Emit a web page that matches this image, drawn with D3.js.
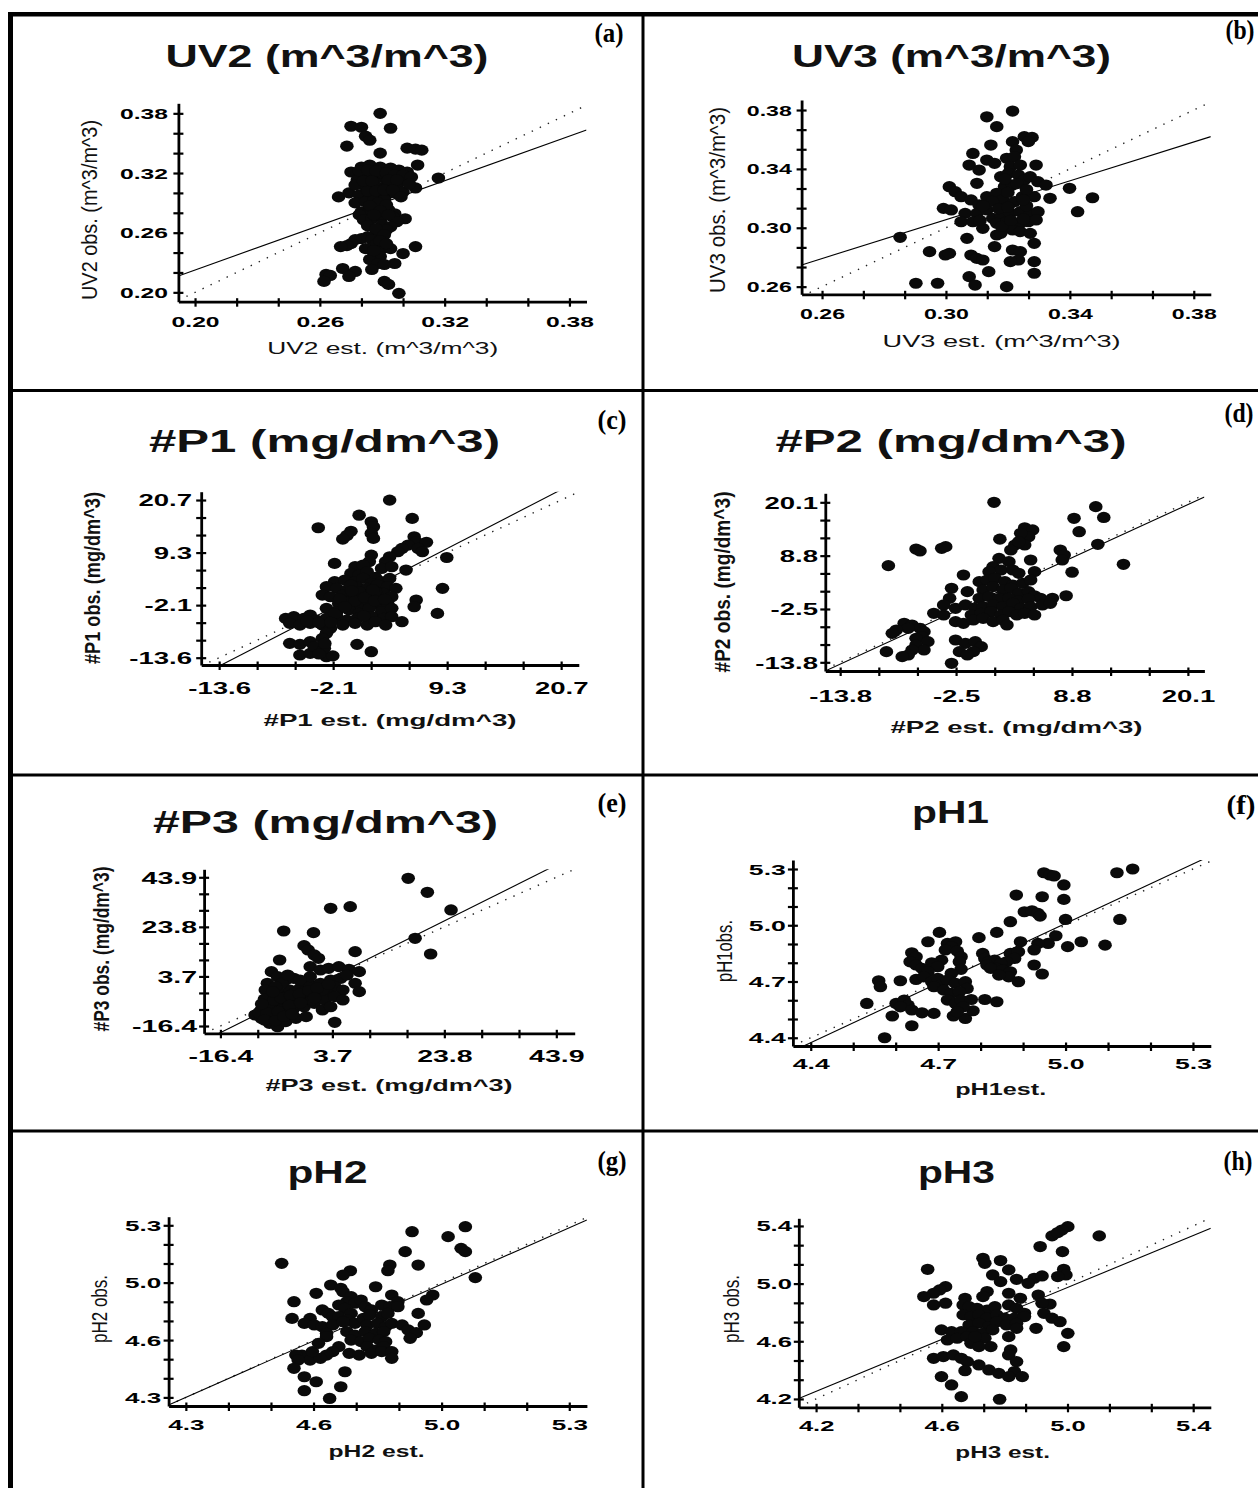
<!DOCTYPE html>
<html><head><meta charset="utf-8">
<script src="https://cdn.jsdelivr.net/npm/d3@7"></script>
<style>
html,body{margin:0;padding:0;background:#fff;}
svg{display:block;}
</style></head>
<body>
<svg id="c" width="1258" height="1488"></svg>
<script>
// ================= DATA =================
const titles = ["UV2 (m^3/m^3)","UV3 (m^3/m^3)","#P1 (mg/dm^3)","#P2 (mg/dm^3)","#P3 (mg/dm^3)","pH1","pH2","pH3"];
const letters = ["(a)","(b)","(c)","(d)","(e)","(f)","(g)","(h)"];
const xTitles = ["UV2 est. (m^3/m^3)","UV3 est. (m^3/m^3)","#P1 est. (mg/dm^3)","#P2 est. (mg/dm^3)","#P3 est. (mg/dm^3)","pH1est.","pH2 est.","pH3 est."];
const yTitles = ["UV2 obs. (m^3/m^3)","UV3 obs. (m^3/m^3)","#P1 obs. (mg/dm^3)","#P2 obs. (mg/dm^3)","#P3 obs. (mg/dm^3)","pH1obs.","pH2 obs.","pH3 obs."];

const tickValues = [
  [0.20,0.26,0.32,0.38],
  [0.26,0.30,0.34,0.38],
  [-13.6,-2.167,9.267,20.7],
  [-13.8,-2.5,8.8,20.1],
  [-16.4,3.7,23.8,43.9],
  [4.4,4.7,5.0,5.3],
  [4.3,4.633,4.967,5.3],
  [4.2,4.6,5.0,5.4]
];
const tickLabels = [
  ["0.20","0.26","0.32","0.38"],
  ["0.26","0.30","0.34","0.38"],
  ["-13.6","-2.1","9.3","20.7"],
  ["-13.8","-2.5","8.8","20.1"],
  ["-16.4","3.7","23.8","43.9"],
  ["4.4","4.7","5.0","5.3"],
  ["4.3","4.6","5.0","5.3"],
  ["4.2","4.6","5.0","5.4"]
];
// axis extents [min,max]
const axisX = [[0.1920,0.3882],[0.2534,0.3855],[-15.40,22.47],[-15.25,21.71],[-19.33,47.20],[4.358,5.342],[4.255,5.346],[4.145,5.456]];
const axisY = [[0.1906,0.3901],[0.2548,0.3868],[-15.19,22.51],[-15.64,22.01],[-19.36,47.14],[4.356,5.348],[4.250,5.350],[4.142,5.453]];
// regression line [intercept, slope]
const fitLines = [[0.0729,0.748],[0.1075,0.660],[-0.21,1.119],[-0.42,0.997],[-0.6,1.128],[-0.286,1.059],[0.060,0.986],[0.473,0.900]];

const ptsUV2 = [[0.289,0.380],[0.275,0.367],[0.280,0.366],[0.294,0.365],[0.282,0.357],[0.284,0.353],[0.273,0.347],[0.302,0.345],[0.306,0.344],[0.309,0.343],[0.289,0.340],
[0.307,0.328],[0.275,0.321],[0.280,0.326],[0.284,0.328],[0.289,0.326],[0.294,0.325],[0.298,0.323],[0.302,0.321],
[0.278,0.313],[0.283,0.316],[0.287,0.318],[0.291,0.315],[0.295,0.311],[0.300,0.313],
[0.281,0.308],[0.285,0.306],[0.289,0.305],[0.293,0.308],[0.297,0.306],[0.317,0.315],[0.306,0.305],
[0.269,0.296],[0.274,0.300],[0.279,0.298],[0.284,0.296],[0.288,0.300],[0.292,0.298],[0.296,0.300],[0.300,0.301],
[0.277,0.290],[0.282,0.291],[0.286,0.293],[0.291,0.293],
[0.280,0.281],[0.284,0.281],[0.288,0.285],[0.293,0.283],[0.296,0.279],
[0.279,0.278],[0.281,0.273],[0.285,0.274],[0.290,0.276],[0.295,0.276],[0.301,0.274],[0.297,0.271],
[0.290,0.268],[0.294,0.266],[0.292,0.263],[0.287,0.259],[0.283,0.256],[0.280,0.254],[0.285,0.253],
[0.277,0.253],[0.275,0.249],[0.273,0.247],[0.270,0.246],[0.287,0.248],[0.290,0.244],[0.294,0.244],[0.306,0.246],
[0.286,0.239],[0.289,0.236],[0.300,0.239],[0.284,0.233],[0.288,0.229],[0.296,0.229],[0.291,0.228],
[0.271,0.224],[0.277,0.221],[0.285,0.223],[0.263,0.218],[0.265,0.217],[0.274,0.216],
[0.262,0.211],[0.291,0.211],[0.293,0.208],[0.298,0.199],
[0.286,0.311],[0.290,0.320],[0.283,0.302],[0.288,0.290],
[0.279,0.322],[0.283,0.323],[0.287,0.322],[0.292,0.320],[0.296,0.318],[0.300,0.318],[0.304,0.316],[0.277,0.308],[0.281,0.312],[0.285,0.312],[0.293,0.313],[0.297,0.313],[0.303,0.309],[0.287,0.302],[0.291,0.303],[0.295,0.303],[0.299,0.296],[0.284,0.287],[0.292,0.288],[0.289,0.282],[0.293,0.278],[0.286,0.278],[0.283,0.267],[0.287,0.264],[0.291,0.258],[0.289,0.252],[0.292,0.249],[0.282,0.244],[0.286,0.242]];

const ptsUV3 = [[0.3215,0.3793],[0.3132,0.3754],[0.3164,0.3687],[0.3145,0.3562],[0.3215,0.3585],[0.3253,0.3619],[0.3278,0.3614],[0.3266,0.3585],[0.3227,0.3528],[0.3087,0.3505],[0.3132,0.346],[0.3157,0.3438],[0.3196,0.3472],[0.3221,0.3483],[0.3075,0.3426],[0.3107,0.3392],[0.3208,0.3415],[0.3240,0.3426],[0.3291,0.3426],[0.3100,0.3302],[0.3177,0.3347],[0.3202,0.3370],[0.3234,0.3358],[0.3253,0.3324],[0.3272,0.3347],[0.3189,0.3279],[0.3215,0.329],[0.3297,0.3313],[0.3323,0.329],[0.3011,0.3279],[0.3030,0.3245],[0.3049,0.3211],[0.3081,0.3189],[0.3107,0.3155],[0.2992,0.3132],[0.3017,0.3121],[0.3132,0.3211],[0.3164,0.3234],[0.3183,0.3189],[0.3221,0.3177],[0.3247,0.3211],[0.3285,0.3211],[0.3336,0.32],[0.3399,0.3268],[0.3473,0.3204],[0.3425,0.3109],[0.3062,0.3098],[0.3100,0.3098],[0.3132,0.3121],
[0.3151,0.3064],[0.3177,0.3075],[0.3208,0.3098],[0.3240,0.3109],[0.3272,0.3098],[0.3297,0.3109],[0.3049,0.3041],[0.3087,0.3041],
[0.3164,0.3030],[0.3196,0.3041],[0.3240,0.3030],[0.3266,0.3041],[0.3291,0.3053],[0.3119,0.2996],[0.3215,0.2985],[0.3240,0.2974],
[0.3068,0.2928],[0.3164,0.2951],[0.3177,0.2962],[0.3272,0.2962],[0.3285,0.2894],[0.2852,0.2935],[0.2947,0.2838],[0.2998,0.2815],[0.3011,0.2826],
[0.3081,0.2815],[0.3100,0.2792],[0.3119,0.2781],[0.3157,0.2872],[0.3215,0.2849],[0.3240,0.2838],[0.3234,0.2781],[0.3208,0.2770],
[0.3285,0.2770],[0.3285,0.2691],[0.3138,0.2702],[0.3075,0.2668],[0.3094,0.2611],[0.2903,0.2623],[0.2973,0.2623],[0.3196,0.2600],
[0.3190,0.3330],[0.3230,0.3300],[0.3260,0.3260],[0.3200,0.3240],[0.3150,0.3180],[0.3120,0.3150],[0.3170,0.3130],[0.3200,0.3140],[0.3260,0.3150],[0.3250,0.3190],[0.3180,0.3010],[0.3210,0.3050],[0.3250,0.3060],[0.3110,0.3050]];

const ptsP1 = [[3.50,20.68],[0.44,17.4],[1.66,15.97],[1.87,14.9],[5.76,16.70],[-3.66,14.67],[-0.38,13.9],[-0.79,13.0],[-1.2,12.2],[1.66,13.44],[1.87,12.35],[5.96,12.71],[6.16,11.62],[7.19,11.5],[5.35,10.9],[4.73,10.17],[4.32,9.45],[6.37,10.17],[6.78,9.45],[3.50,8.36],[3.10,7.3],[9.23,8.2],[1.66,8.72],[1.46,7.3],[-2.02,6.91],[0.03,6.19],[0.84,6.55],[2.69,5.82],[3.71,6.19],[5.14,5.46],[-0.38,4.74],[0.44,4.38],[1.25,5.10],[2.07,3.9],
[-2.02,2.93],[-1.0,3.29],[0.03,2.93],[0.84,3.65],[1.66,2.56],[2.69,2.93],[3.50,3.65],
[-2.84,1.84],[-1.81,1.48],[-0.79,1.11],[0.23,1.84],[1.25,1.48],[2.28,2.20],[3.30,1.84],[4.12,1.48],[8.8,1.48],
[-3.25,0.03],[-2.43,-0.34],[-1.20,0.03],[-0.18,-0.70],[0.84,0.03],[1.87,-0.70],[2.89,0.39],[3.71,-0.34],[6.16,-1.06],[5.96,-2.51],
[-1.61,-1.79],[-0.59,-1.42],[0.44,-2.15],[1.46,-1.42],[2.48,-2.15],[3.30,-1.79],
[-2.84,-2.87],[-1.81,-3.60],[-0.59,-3.2],[0.44,-3.96],[1.46,-2.87],[2.69,-3.60],[3.71,-2.87],[8.29,-3.96],
[-6.93,-5.05],[-6.11,-4.68],[-5.09,-5.05],[-4.47,-4.32],[-3.86,-5.41],[-2.84,-5.05],[-1.81,-4.68],[-0.79,-5.41],[0.23,-5.05],
[1.66,-4.68],[2.89,-5.05],[3.71,-4.68],[4.73,-5.77],[-6.52,-6.13],[-5.50,-6.50],[-4.47,-6.13],
[-3.25,-6.50],[-2.43,-7.22],[-1.20,-6.50],[0.03,-6.13],[1.25,-6.50],[2.07,-5.77],[3.10,-6.50],
[-2.84,-8.3],[-3.25,-9.40],[-6.52,-10.48],[-5.50,-10.7],[-4.47,-10.12],[-3.86,-11.57],[-3.25,-12.3],
[-5.5,-13.02],[-4.47,-12.66],[-2.84,-13.38],[-2.2,-13.2],[-4.06,-11.2],[0.23,-10.7],[1.66,-12.30],[-3.05,-11.57],
[0.44,0.75],[2.07,0.75],[-0.38,2.2],
[-1.5,-0.8],[0.0,-1.3],[1.0,-0.5],[2.0,-1.2],[-0.3,0.9],[1.8,1.2],[3.0,-0.9],[-2.0,-4.0],[-1.0,-2.5],[0.9,-4.5],[-4.8,-5.6],[-3.6,-6.0],[-2.4,-5.9],[-3.0,-10.5],[-3.6,-12.8]];

const ptsP2 = [[1.2,20.10],[11.12,19.18],[11.9,16.9],[9.00,16.71],[9.5,13.88],[4.19,14.7],[4.96,14.24],[4.57,12.82],[3.80,13.53],[1.77,12.3],[3.23,11.06],[2.84,10.0],[4.19,11.06],[3.61,11.76],[11.32,11.2],[-6.40,10.2],[-6.02,9.8],[-3.90,10.35],[-3.51,10.71],[7.66,10.0],[8.04,8.94],[7.85,7.88],[-9.10,6.68],[13.82,6.96],[1.69,8.23],[2.65,7.53],[4.77,7.88],[1.11,6.47],[1.88,5.76],[0.72,5.41],[3.03,5.76],[3.61,5.06],[5.15,5.41],[8.81,5.3],[-1.78,4.70],
[-0.24,3.29],[0.53,3.64],[1.30,4.00],[2.26,3.29],[3.03,2.58],[4.00,2.94],[4.77,3.64],[-2.94,1.88],[-1.40,1.17],
[0.14,1.52],[1.11,2.23],[2.07,1.52],[2.84,1.88],[3.61,0.82],[4.57,1.17],[5.15,0.3],[5.73,-0.24],[6.89,-0.24],[8.23,0.3],[-3.13,-0.24],
[-0.24,-0.24],[0.72,0.11],[1.69,-0.24],[2.65,-0.24],[3.61,-0.81],[4.57,-0.38],[-3.71,-1.65],[-2.55,-2.36],[-1.59,-1.65],
[-0.63,-2.36],[0.14,-2.01],[1.11,-1.65],[2.07,-2.01],[3.03,-1.30],[3.80,-2.36],[4.77,-2.01],[5.92,-1.65],[6.69,-1.30],[-4.67,-3.42],[-3.71,-3.77],
[-1.01,-3.77],[-0.05,-3.42],[0.91,-3.07],[1.88,-3.77],[2.65,-3.07],[3.42,-3.77],[4.19,-3.42],[5.15,-3.77],
[-2.55,-5.18],[-1.78,-5.54],[-0.82,-4.83],[0.14,-4.48],[1.11,-5.18],[2.07,-4.83],[2.46,-5.89],
[-7.56,-5.54],[-6.79,-5.89],[-6.02,-6.60],[-7.17,-6.60],[-8.33,-6.95],[-8.72,-7.66],
[-5.63,-7.30],[-5.83,-8.36],[-6.40,-8.72],[-5.25,-9.42],[-6.40,-10.13],[-5.63,-11.19],[-6.79,-11.19],[-7.17,-12.25],[-7.75,-12.60],
[-2.55,-9.07],[-1.59,-9.77],[-0.63,-9.42],[-0.05,-10.48],[-0.82,-11.54],[-2.17,-11.54],[-1.40,-12.25],[-9.29,-11.54],[-2.94,-14.01]];

const ptsP3 = [[17.31,43.49],[20.75,37.82],[25.0,30.65],[3.39,31.33],[6.90,32.0],[-5.04,22.13],[0.31,21.46],[18.55,19.16],[21.34,12.8],
[-1.38,16.18],[-0.65,14.43],[0.45,12.4],[1.19,11.05],[7.78,13.75],[-5.77,10.37],[-7.24,5.64],[-6.14,3.61],[-4.68,2.26],[-3.21,2.93],
[-0.28,7.67],[1.55,6.31],[3.02,6.99],[4.85,7.67],[6.68,6.58],[8.52,5.64],[7.78,0.91],[8.52,-2.47],[4.12,-14.91],
[-7.97,0.91],[-8.34,-1.80],[-7.24,-4.50],[-5.41,-3.15],[-3.94,-1.80],[-2.11,-1.12],[-0.28,0.23],[1.55,0.91],[3.39,2.26],[5.22,2.93],[6.32,4.29],
[4.12,-0.45],[5.58,-1.80],[2.65,-2.47],[0.82,-3.15],[-1.01,-4.50],[-2.84,-5.85],[-4.68,-7.21],[-6.14,-8.56],[-7.61,-7.21],
[-9.07,-9.91],[-10.17,-11.94],[-9.07,-13.29],[-7.61,-12.61],[-6.14,-11.94],[-4.68,-10.59],[-3.21,-9.23],[-1.38,-8.56],[0.45,-7.21],[2.29,-5.85],[4.12,-4.50],[5.58,-5.85],
[-7.61,-15.32],[-6.14,-16.67],[-4.68,-14.64],[-2.84,-13.29],[-1.01,-12.61],[1.92,-9.91],[3.39,-8.56],
[-5.41,0.91],[-4.31,4.29],[-6.51,-0.45],[-0.28,3.61],[-2.11,2.26],[1.92,-1.80],[0.08,-5.85],[-4.68,-4.50],[-3.21,-3.15],[-1.38,-2.47],[-5.41,-9.91],[-7.61,-9.91],
[-8.5,-5.5],[-6.8,-6.0],[-5.5,-5.0],[-3.8,-4.0],[-2.2,-3.5],[-0.5,-2.0],[1.0,-1.0],[3.0,0.5],[-9.5,-11.0],[-8.0,-11.0],[-6.0,-10.5],[-4.0,-8.0],[-2.0,-7.0],[0.5,-5.0],[-8.5,-14.0],[-6.5,-14.2],[-5.0,-12.5],[-3.5,-11.5],[-7.0,-2.5],[-9.0,-7.5]];

const ptsPH1 = [[5.158,5.300],[5.121,5.280],[4.949,5.280],[4.963,5.268],[4.973,5.263],[4.996,5.215],[4.884,5.161],[4.945,5.152],[4.996,5.138],
[4.903,5.072],[4.921,5.077],[4.935,5.063],[4.940,5.049],[5.000,5.031],[5.128,5.031],[4.870,5.019],[4.838,4.962],[4.703,4.962],[4.796,4.934],[4.977,4.944],[4.676,4.912],[4.894,4.912],[5.005,4.886],[5.037,4.912],[5.093,4.894],[4.959,4.903],[4.935,4.903],[4.926,4.868],
[4.722,4.903],[4.741,4.912],[4.731,4.886],[4.717,4.868],[4.638,4.853],[4.648,4.832],[4.745,4.862],[4.754,4.832],[4.750,4.805],[4.805,4.850],[4.810,4.823],[4.870,4.850],[4.889,4.859],[4.880,4.823],[4.861,4.805],[4.819,4.805],[4.833,4.814],[4.847,4.797],[4.838,4.770],[4.815,4.788],[4.824,4.770],[4.926,4.788],[4.945,4.740],
[4.708,4.814],[4.685,4.800],[4.699,4.779],[4.634,4.805],[4.648,4.788],[4.662,4.770],[4.676,4.752],[4.754,4.765],[4.731,4.743],[4.852,4.761],[4.870,4.752],[4.866,4.725],[4.843,4.734],[4.889,4.699],
[4.560,4.704],[4.564,4.672],[4.611,4.704],[4.648,4.711],[4.666,4.725],[4.685,4.699],[4.699,4.717],[4.708,4.681],[4.690,4.672],[4.722,4.708],[4.741,4.690],[4.764,4.699],[4.768,4.663],[4.713,4.654],[4.731,4.637],[4.750,4.645],[4.722,4.601],[4.741,4.583],[4.754,4.601],[4.778,4.604],[4.810,4.604],[4.838,4.592],
[4.532,4.583],[4.601,4.583],[4.620,4.601],[4.629,4.574],[4.611,4.565],[4.638,4.548],[4.662,4.533],[4.690,4.530],[4.592,4.516],[4.638,4.464],[4.736,4.516],[4.764,4.503],[4.782,4.544],[4.759,4.565],[4.745,4.539],[4.574,4.400]];

const ptsPH2 = [[5.029,5.292],[4.890,5.263],[4.984,5.234],[5.018,5.166],[5.029,5.147],[4.872,5.147],[4.550,5.079],[4.906,5.069],[4.832,5.069],[4.827,5.036],[4.729,5.036],[4.710,5.011],[5.055,4.996],[4.678,4.953],[4.704,4.934],[4.795,4.943],[4.640,4.905],[4.582,4.856],[4.944,4.895],[4.928,4.866],[4.837,4.895],[4.853,4.856],
[4.710,4.914],[4.731,4.885],[4.720,4.856],[4.741,4.847],[4.757,4.866],[4.699,4.837],[4.715,4.817],[4.731,4.788],[4.768,4.827],[4.784,4.808],[4.811,4.837],[4.832,4.827],[4.853,4.827],[4.906,4.788],[4.656,4.808],[4.672,4.788],[4.683,4.769],[4.577,4.759],[4.624,4.759],[4.609,4.730],[4.635,4.721],[4.699,4.769],[4.720,4.750],[4.741,4.730],[4.763,4.759],[4.779,4.779],[4.811,4.769],[4.827,4.788],
[4.656,4.711],[4.683,4.721],[4.710,4.740],[4.667,4.672],[4.773,4.721],[4.800,4.730],[4.821,4.711],[4.837,4.730],[4.864,4.721],[4.880,4.692],[4.901,4.676],[4.922,4.721],[4.885,4.643],
[4.720,4.682],[4.741,4.662],[4.768,4.682],[4.795,4.672],[4.816,4.682],[4.731,4.633],[4.757,4.624],[4.779,4.643],[4.805,4.633],[4.821,4.624],[4.667,4.653],[4.773,4.595],[4.795,4.575],[4.816,4.595],[4.699,4.595],[4.683,4.566],[4.667,4.546],[4.603,4.546],[4.624,4.517],[4.651,4.527],[4.630,4.566],[4.726,4.556],[4.752,4.546],[4.784,4.556],[4.811,4.566],[4.837,4.566],[4.837,4.527],[4.587,4.546],[4.593,4.517],
[4.582,4.469],[4.715,4.449],[4.609,4.420],[4.640,4.391],[4.704,4.362],[4.609,4.339],[4.675,4.294],[4.646,4.614]];

const ptsPH3 = [[5.001,5.395],[4.982,5.372],[4.951,5.331],[4.969,5.354],[5.101,5.331],[4.913,5.257],[4.984,5.222],[4.731,5.176],[4.737,5.141],[4.787,5.160],[4.555,5.099],[4.813,5.095],[4.988,5.099],[4.995,5.060],[4.969,5.049],[4.762,5.060],[4.787,5.014],[4.838,5.030],[4.894,5.037],[4.919,5.053],[4.875,5.002],
[4.612,4.979],[4.593,4.956],[4.574,4.933],[4.543,4.910],[4.744,4.945],[4.731,4.910],[4.813,4.933],[4.850,4.898],[4.907,4.921],[4.944,4.858],[4.919,4.864],[4.674,4.898],[4.668,4.852],[4.687,4.840],[4.574,4.852],[4.612,4.864],[4.712,4.829],[4.744,4.817],[4.769,4.840],[4.813,4.852],[4.838,4.829],[4.863,4.794],[4.925,4.794],[4.951,4.760],[4.976,4.736],
[4.668,4.783],[4.693,4.771],[4.718,4.783],[4.744,4.760],[4.775,4.783],[4.800,4.760],[4.831,4.760],[4.863,4.771],
[4.687,4.713],[4.718,4.725],[4.750,4.702],[4.775,4.736],[4.806,4.713],[4.838,4.725],[4.900,4.690],
[4.599,4.679],[4.631,4.667],[4.662,4.667],[4.700,4.667],[4.731,4.655],[4.762,4.679],[4.813,4.632],[4.838,4.690],
[4.618,4.609],[4.649,4.621],[4.681,4.632],[4.706,4.598],[4.737,4.621],[4.756,4.563],
[5.001,4.655],[4.988,4.563],[4.819,4.540],[4.813,4.505],[4.574,4.482],[4.605,4.494],[4.637,4.505],[4.662,4.482],[4.681,4.459],
[4.718,4.436],[4.750,4.401],[4.781,4.378],[4.838,4.459],[4.831,4.390],[4.856,4.355],[4.813,4.355],
[4.674,4.396],[4.599,4.355],[4.631,4.297],[4.662,4.216],[4.784,4.198],[4.693,4.586],[4.718,4.563],[4.706,4.632]];

const pointSets = [ptsUV2, ptsUV3, ptsP1, ptsP2, ptsP3, ptsPH1, ptsPH2, ptsPH3];

// ================= LAYOUT (pixels) =================
const layout = [
 {x0:178.4,x1:586.5,yb:301.7,yt:103.3, tX:327,tY:67,tW:323, lX:609,lY:42, yLabR:168,xLabB:327, xtX:382.7,xtY:354,xtW:231, ytX:89,ytY:210,ytL:180, fs:14,k:1.76, bx:false,by:false},
 {x0:801.6,x1:1210.8,yb:294.3,yt:100, tX:951.5,tY:67,tW:319, lX:1240,lY:39, yLabR:791.8,xLabB:319, xtX:1001.6,xtY:347,xtW:238, ytX:717,ytY:200,ytL:186, fs:14,k:1.65, bx:false,by:false},
 {x0:201.2,x1:578.8,yb:665,yt:491.7, tX:324.5,tY:452,tW:351, lX:612,lY:429, yLabR:192,xLabB:694, xtX:390,xtY:726,xtW:253, ytX:92,ytY:578,ytL:172, fs:16,k:1.72, bx:true,by:true},
 {x0:825.3,x1:1204.4,yb:671,yt:493.3, tX:951,tY:452,tW:351, lX:1239,lY:422, yLabR:818,xLabB:702, xtX:1016.5,xtY:733,xtW:252, ytX:722,ytY:582,ytL:181, fs:16,k:1.72, bx:true,by:true},
 {x0:204.1,x1:574.7,yb:1033.3,yt:869.3, tX:325.5,tY:833,tW:345, lX:612,lY:812, yLabR:197,xLabB:1062, xtX:389,xtY:1091,xtW:247, ytX:101,ytY:949,ytL:165, fs:16,k:1.78, bx:true,by:true},
 {x0:792.9,x1:1210.8,yb:1046,yt:860, tX:950.5,tY:823,tW:77, lX:1241,lY:814, yLabR:785.8,xLabB:1069, xtX:1000.7,xtY:1095,xtW:91, ytX:724,ytY:951,ytL:62, fs:14,k:1.9, bx:true,by:false},
 {x0:168.6,x1:586.9,yb:1406,yt:1216.7, tX:327.5,tY:1183,tW:80, lX:612,lY:1170, yLabR:161.2,xLabB:1430, xtX:376.5,xtY:1457,xtW:96, ytX:99,ytY:1309,ytL:68, fs:14,k:1.86, bx:true,by:false},
 {x0:798.8,x1:1210.8,yb:1407.3,yt:1218.3, tX:956.4,tY:1183,tW:77, lX:1238,lY:1170, yLabR:791.8,xLabB:1431, xtX:1002.6,xtY:1458,xtW:94.6, ytX:731,ytY:1309,ytL:68, fs:14,k:1.82, bx:true,by:false}
];

const SANS = "'Liberation Sans', Arial, Helvetica, sans-serif";
const SERIF = "'Liberation Serif', 'Times New Roman', serif";
const svg = d3.select("#c");

// ---------- table frame ----------
const frame = svg.append("g").attr("stroke","#000").attr("fill","none");
frame.append("line").attr("x1",10.5).attr("x2",10.5).attr("y1",12).attr("y2",1488).attr("stroke-width",5);
frame.append("line").attr("x1",8).attr("x2",1258).attr("y1",14.3).attr("y2",14.3).attr("stroke-width",4.5);
frame.append("line").attr("x1",643).attr("x2",643).attr("y1",14).attr("y2",1488).attr("stroke-width",3);
[390.5, 775, 1131].forEach(yy => frame.append("line").attr("x1",10).attr("x2",1258).attr("y1",yy).attr("y2",yy).attr("stroke-width",3));

function stretchText(sel, k){
  sel.each(function(){
    const w = this.getComputedTextLength();
    d3.select(this).attr("textLength", w*k).attr("lengthAdjust","spacingAndGlyphs");
  });
}

pointSets.forEach((pts, i) => {
  const L = layout[i];
  const x = d3.scaleLinear().domain(axisX[i]).range([L.x0, L.x1]);
  const y = d3.scaleLinear().domain(axisY[i]).range([L.yb, L.yt]);
  const g = svg.append("g");

  // minor + major ticks
  const maj = tickValues[i];
  const all = [];
  for (let j = 0; j < maj.length; j++) {
    all.push(maj[j]);
    if (j < maj.length - 1) {
      const st = (maj[j+1] - maj[j]) / 3;
      all.push(maj[j] + st, maj[j] + 2*st);
    }
  }
  const labelOf = v => { const idx = maj.indexOf(v); return idx >= 0 ? tickLabels[i][idx] : ""; };

  // clip region for the reference lines
  const cid = "clip" + i;
  svg.append("clipPath").attr("id", cid).append("rect")
    .attr("x", L.x0).attr("y", L.yt).attr("width", L.x1 - L.x0).attr("height", L.yb - L.yt);
  const lg = g.append("g").attr("clip-path", `url(#${cid})`);
  const [xa, xb] = axisX[i];
  // 1:1 dotted line
  lg.append("line")
    .attr("x1", x(xa)).attr("y1", y(xa)).attr("x2", x(xb)).attr("y2", y(xb))
    .attr("stroke","#222").attr("stroke-width",1.4).attr("stroke-dasharray","1.4,7.5");
  // regression solid line
  const [b0, b1] = fitLines[i];
  lg.append("line")
    .attr("x1", x(xa)).attr("y1", y(b0 + b1*xa)).attr("x2", x(xb)).attr("y2", y(b0 + b1*xb))
    .attr("stroke","#000").attr("stroke-width",1.1);

  // axes
  const ax = g.append("g").attr("transform", `translate(0,${L.yb})`)
    .call(d3.axisBottom(x).tickValues(all).tickSize(5).tickSizeOuter(0).tickFormat(labelOf));
  const ay = g.append("g").attr("transform", `translate(${L.x0},0)`)
    .call(d3.axisLeft(y).tickValues(all).tickSize(5).tickSizeOuter(0).tickFormat(labelOf));
  [ax, ay].forEach(a => {
    a.attr("font-family", null).attr("font-size", null);
    a.select(".domain").attr("stroke","#000").attr("stroke-width",2.8);
    a.selectAll(".tick line").attr("stroke","#000").attr("stroke-width",2.2);
  });
  ax.selectAll(".tick line").attr("y1", -3.5);
  ay.selectAll(".tick line").attr("x1", 5);
  ax.selectAll(".tick text").attr("y", L.xLabB - L.yb).attr("dy", 0)
    .attr("font-family", SANS).attr("font-weight","bold").attr("font-size", L.fs).attr("fill","#000");
  ay.selectAll(".tick text").attr("x", L.yLabR - L.x0).attr("dy","0.36em")
    .attr("font-family", SANS).attr("font-weight","bold").attr("font-size", L.fs).attr("fill","#000");
  stretchText(ax.selectAll(".tick text"), L.k);
  stretchText(ay.selectAll(".tick text"), L.k);

  // points
  g.append("g").selectAll("ellipse").data(pts).join("ellipse")
    .attr("cx", d => x(d[0])).attr("cy", d => y(d[1]))
    .attr("rx", 6.8).attr("ry", 5.6).attr("fill","#0a0a0a");

  // panel title
  g.append("text").attr("x", L.tX - L.tW/2).attr("y", L.tY)
    .attr("font-family", SANS).attr("font-weight","bold").attr("font-size", 31).attr("fill","#111")
    .attr("textLength", L.tW).attr("lengthAdjust","spacingAndGlyphs").text(titles[i]);

  // panel letter
  g.append("text").attr("x", L.lX - 14.5).attr("y", L.lY)
    .attr("font-family", SERIF).attr("font-weight","bold").attr("font-size", 27).attr("fill","#000")
    .attr("textLength", 29).attr("lengthAdjust","spacingAndGlyphs").text(letters[i]);

  // x axis title
  g.append("text").attr("x", L.xtX - L.xtW/2).attr("y", L.xtY)
    .attr("font-family", SANS).attr("font-weight", L.bx ? "bold" : "normal").attr("font-size", 17).attr("fill","#111")
    .attr("textLength", L.xtW).attr("lengthAdjust","spacingAndGlyphs").text(xTitles[i]);

  // y axis title (rotated)
  g.append("g").attr("transform", `translate(${L.ytX},${L.ytY}) scale(1.35,1) rotate(-90)`)
    .append("text").attr("x", -L.ytL/2).attr("y", 0).attr("dy","0.36em")
    .attr("font-family", SANS).attr("font-weight", L.by ? "bold" : "normal").attr("font-size", 17).attr("fill","#111")
    .attr("textLength", L.ytL).attr("lengthAdjust","spacingAndGlyphs").text(yTitles[i]);
});
</script>
</body></html>
